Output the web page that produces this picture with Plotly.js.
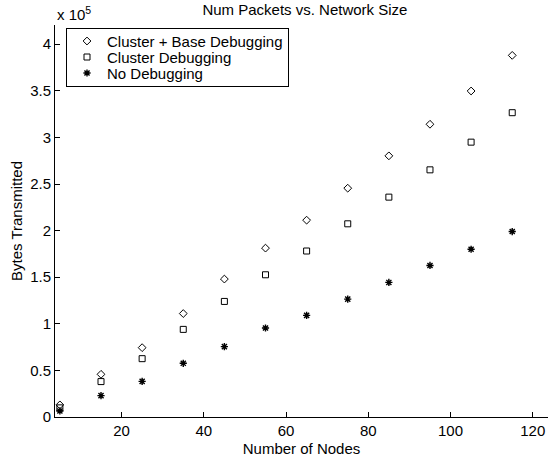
<!DOCTYPE html>
<html>
<head>
<meta charset="utf-8">
<script src="https://cdn.plot.ly/plotly-3.0.1.min.js"></script>
<style>html,body{margin:0;padding:0;background:#fff;}#chart{width:548px;height:459px;}</style>
</head>
<body>
<div id="chart"></div>
<script>
// Number of nodes
var nodes = [5, 15, 25, 35, 45, 55, 65, 75, 85, 95, 105, 115];
// Bytes transmitted, in units of 10^5
var clusterBaseDebugging = [0.13, 0.458, 0.744, 1.11, 1.48, 1.812, 2.112, 2.455, 2.802, 3.141, 3.498, 3.88];
var clusterDebugging     = [0.098, 0.38, 0.626, 0.94, 1.24, 1.526, 1.781, 2.073, 2.359, 2.652, 2.949, 3.265];
var noDebugging          = [0.065, 0.229, 0.382, 0.576, 0.755, 0.955, 1.09, 1.265, 1.444, 1.626, 1.80, 1.99];
var seriesNames = ["Cluster + Base Debugging", "Cluster Debugging", "No Debugging"];
var xTicks = [20, 40, 60, 80, 100, 120];
var yTicks = [0, 0.5, 1, 1.5, 2, 2.5, 3, 3.5, 4];
var yTickText = ["0", "0.5", "1", "1.5", "2", "2.5", "3", "3.5", "4"];

var font = {family: "Liberation Sans, Arial, Helvetica, sans-serif", size: 15, color: "#000"};

var traces = [
  {x: nodes, y: clusterBaseDebugging, name: seriesNames[0], type: "scatter", mode: "markers",
   marker: {symbol: "diamond-open", size: 6, color: "#000", line: {color: "#000", width: 1}}},
  {x: nodes, y: clusterDebugging, name: seriesNames[1], type: "scatter", mode: "markers",
   marker: {symbol: "square-open", size: 6, color: "#000", line: {color: "#000", width: 1}}},
  {x: nodes, y: noDebugging, name: seriesNames[2], type: "scatter", mode: "markers",
   marker: {symbol: "asterisk-open", size: 6, color: "#000", line: {color: "#000", width: 1.4}}}
];

var layout = {
  width: 548, height: 459,
  margin: {l: 55, r: 0, t: 25, b: 42, pad: 0},
  paper_bgcolor: "#fff", plot_bgcolor: "#fff",
  font: font,
  showlegend: true,
  title: {text: "Num Packets vs. Network Size", font: font, x: 0.507, xref: "paper", xanchor: "center",
          y: 1 - 9.5/459, yref: "container", yanchor: "middle"},
  xaxis: {range: [3.81, 123.7], tickvals: xTicks, ticktext: xTicks.map(String), ticks: "inside", ticklen: 5,
          tickcolor: "#000", showline: true, linecolor: "#000", linewidth: 1, showgrid: false, zeroline: false,
          tickfont: font, title: {text: "Number of Nodes", font: font, standoff: 5}},
  yaxis: {range: [0, 4.206], tickvals: yTicks, ticktext: yTickText, ticks: "inside", ticklen: 5,
          tickcolor: "#000", showline: true, linecolor: "#000", linewidth: 1, showgrid: false, zeroline: false,
          tickfont: font, title: {text: "Bytes Transmitted", font: font, standoff: 3}},
  legend: {x: (66-55)/493, y: 1 - 3/392, xanchor: "left", yanchor: "top", bgcolor: "#fff",
           bordercolor: "#000", borderwidth: 1, font: font, itemwidth: 30},
  annotations: [
    {text: "x 10<sup>5</sup>", xref: "paper", yref: "paper", x: 0, y: 1, xanchor: "left", yanchor: "bottom",
     showarrow: false, font: font}
  ]
};

Plotly.newPlot("chart", traces, layout, {displayModeBar: false, staticPlot: true}).then(function (gd) {
  // tighten legend row spacing to match the reference (MATLAB-style compact legend)
  var items = gd.querySelectorAll(".legend .traces");
  var rowGap = 16, firstRow = 13;
  for (var i = 0; i < items.length; i++) {
    var t = items[i].getAttribute("transform") || "";
    var m = /translate\(\s*([-\d.]+)[ ,]+([-\d.]+)\s*\)/.exec(t);
    var x = m ? parseFloat(m[1]) : 1;
    items[i].setAttribute("transform", "translate(" + x + "," + (firstRow + i * rowGap) + ")");
  }
  var bg = gd.querySelector(".legend rect.bg");
  if (bg) bg.setAttribute("height", firstRow * 2 + rowGap * (items.length - 1));
});
</script>
</body>
</html>
